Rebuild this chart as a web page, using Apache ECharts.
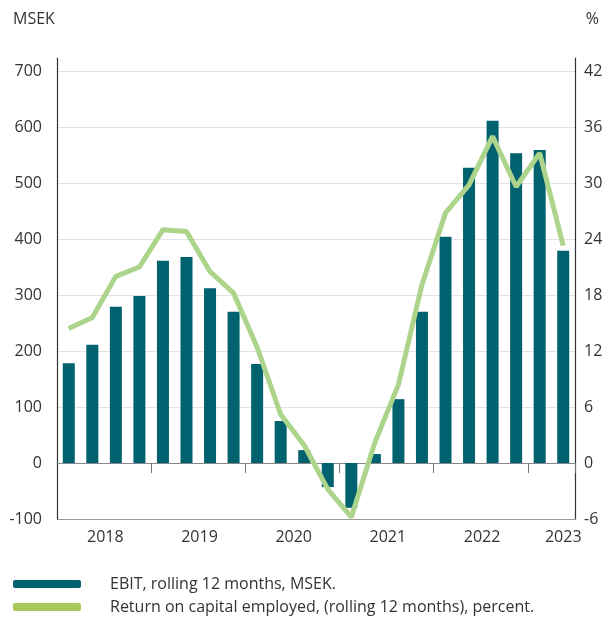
<!DOCTYPE html>
<html lang="en">
<head>
    <meta charset="UTF-8">
    <title>EBIT and return on capital employed</title>
    <script src="https://cdn.jsdelivr.net/npm/echarts@6/dist/echarts.min.js"></script>
    <style>
        html, body { margin: 0; padding: 0; background: #fff; }
        #chart { width: 614px; height: 621px; }
    </style>
</head>
<body>
    <div id="chart"></div>
    <script>
        // quarters, 2018 Q1 .. 2023 Q2
        var quarters = ['2018 Q1', '2018 Q2', '2018 Q3', '2018 Q4',
                        '2019 Q1', '2019 Q2', '2019 Q3', '2019 Q4',
                        '2020 Q1', '2020 Q2', '2020 Q3', '2020 Q4',
                        '2021 Q1', '2021 Q2', '2021 Q3', '2021 Q4',
                        '2022 Q1', '2022 Q2', '2022 Q3', '2022 Q4',
                        '2023 Q1', '2023 Q2']
        var ebit = [178, 211, 279, 298, 361, 368, 312, 270, 177, 75, 23, -43,
                    -80, 16, 114, 270, 404, 527, 611, 553, 559, 379]
        var roce = [14.4, 15.6, 20.0, 21.0, 25.0, 24.8, 20.5, 18.2, 12.4, 5.2, 1.9, -2.8,
                    -5.8, 2.2, 8.4, 19.1, 26.8, 29.8, 35.0, 29.6, 33.2, 23.3]
        var leftTicks = { min: -100, max: 700, interval: 100 }
        var rightTicks = { min: -6, max: 42, interval: 6 }
        // where the year labels go (index in quarters) - last one sits on its bar
        var yearLabelAt = [1, 5, 9, 13, 17, 21]

        var FONT = 'Open Sans'
        var SIZE = 16
        var TEXT = '#333'

        // axis line runs ~13px above the top tick in the original
        var extraLeft = 23.2
        var extraRight = extraLeft * (rightTicks.interval / leftTicks.interval)

        var chart = echarts.init(document.getElementById('chart'))
        var option = {
            animation: false,
            textStyle: { fontFamily: FONT },
            title: [
                { text: 'MSEK', left: 8, top: 6, textStyle: { fontFamily: FONT, fontSize: SIZE, fontWeight: 'normal', color: TEXT } },
                { text: '%', right: 10, top: 6, textStyle: { fontFamily: FONT, fontSize: SIZE, fontWeight: 'normal', color: TEXT } }
            ],
            grid: { left: 57, right: 39, top: 58, bottom: 102, containLabel: false },
            legend: {
                orient: 'vertical',
                left: 8,
                top: 571,
                height: 80,
                icon: 'roundRect',
                itemWidth: 68,
                itemHeight: 8,
                itemGap: 7,
                textStyle: { fontFamily: FONT, fontSize: SIZE, color: TEXT, padding: [0, 0, 0, 24] },
                data: [
                    { name: 'EBIT, rolling 12 months, MSEK.', itemStyle: { color: '#00616f' } },
                    { name: 'Return on capital employed, (rolling 12 months), percent.', itemStyle: { color: '#a8c957' } }
                ]
            },
            xAxis: [
                {
                    type: 'category',
                    data: quarters,
                    position: 'bottom',
                    axisLine: { onZero: true, lineStyle: { color: '#888', width: 1 } },
                    axisTick: {
                        show: true, length: 10, lineStyle: { color: '#777' },
                        interval: function (i) { return i > 0 && i % 4 === 0 }
                    },
                    axisLabel: { show: false },
                    splitLine: { show: false }
                },
                {
                    type: 'category',
                    data: quarters,
                    position: 'bottom',
                    axisLine: { show: false, onZero: false },
                    axisTick: { show: false },
                    axisLabel: {
                        margin: 10,
                        fontFamily: FONT, fontSize: SIZE, color: TEXT,
                        interval: function (i) { return yearLabelAt.indexOf(i) >= 0 },
                        formatter: function (v, i) {
                            var y = v.slice(0, 4)
                            return i === yearLabelAt[yearLabelAt.length - 1] ? '{e|' + y + '}' : '{s|' + y + '}'
                        },
                        rich: {
                            s: { fontFamily: FONT, fontSize: SIZE, color: TEXT, padding: [0, 0, 0, 26] },
                            e: { fontFamily: FONT, fontSize: SIZE, color: TEXT }
                        }
                    }
                }
            ],
            yAxis: [
                {
                    type: 'value',
                    min: leftTicks.min,
                    max: leftTicks.max + extraLeft,
                    interval: leftTicks.interval,
                    axisLine: { show: true, lineStyle: { color: '#333', width: 1.2 } },
                    axisTick: { show: false },
                    axisLabel: {
                        showMaxLabel: false, margin: 15,
                        fontFamily: FONT, fontSize: SIZE, color: TEXT
                    },
                    splitLine: {
                        show: true, showMaxLine: false,
                        lineStyle: { color: ['#999', '#888', '#e3e3e3', '#e3e3e3', '#e3e3e3', '#e3e3e3', '#e3e3e3', '#e3e3e3', '#e3e3e3'] }
                    }
                },
                {
                    type: 'value',
                    min: rightTicks.min,
                    max: rightTicks.max + extraRight,
                    interval: rightTicks.interval,
                    axisLine: { show: true, lineStyle: { color: '#333', width: 1.2 } },
                    axisTick: { show: false },
                    axisLabel: {
                        showMaxLabel: false, margin: 9,
                        fontFamily: FONT, fontSize: SIZE, color: TEXT
                    },
                    splitLine: { show: false }
                }
            ],
            series: [
                {
                    name: 'EBIT, rolling 12 months, MSEK.',
                    type: 'bar',
                    xAxisIndex: 0,
                    yAxisIndex: 0,
                    data: ebit,
                    barWidth: 12,
                    itemStyle: { color: '#00616f' }
                },
                {
                    name: 'Return on capital employed, (rolling 12 months), percent.',
                    type: 'line',
                    xAxisIndex: 0,
                    yAxisIndex: 1,
                    data: roce,
                    symbol: 'none',
                    lineStyle: { color: '#acd48b', width: 5 },
                    itemStyle: { color: '#acd48b' },
                    z: 3
                }
            ]
        }
        chart.setOption(option)
    </script>
</body>
</html>
